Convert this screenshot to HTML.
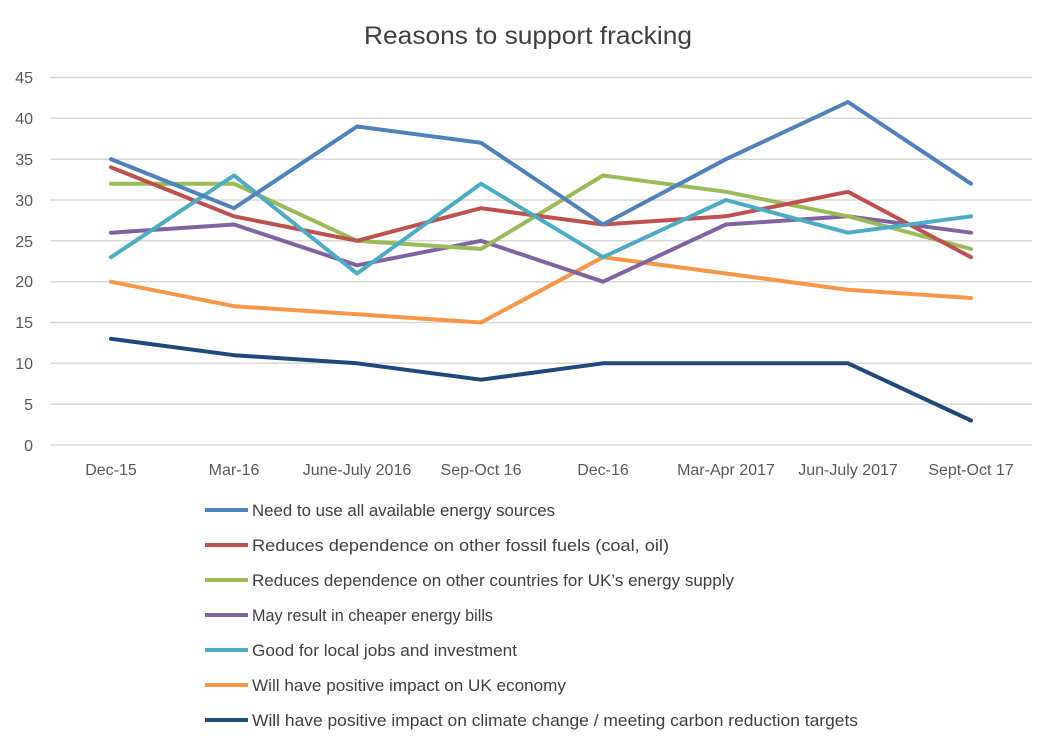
<!DOCTYPE html>
<html><head><style>body{margin:0;background:#fff}svg{display:block}text{font-family:"Liberation Sans",sans-serif}</style></head>
<body>
<svg width="1056" height="749" xmlns="http://www.w3.org/2000/svg">
<rect width="1056" height="749" fill="#fff"/>
<text x="528" y="44" font-size="25" fill="#404040" text-anchor="middle" textLength="328" lengthAdjust="spacingAndGlyphs">Reasons to support fracking</text>
<g stroke="#d9d9d9" stroke-width="1.5">
<line x1="50" x2="1032" y1="77.5" y2="77.5"/><line x1="50" x2="1032" y1="118.3" y2="118.3"/><line x1="50" x2="1032" y1="159.2" y2="159.2"/><line x1="50" x2="1032" y1="200" y2="200"/><line x1="50" x2="1032" y1="240.8" y2="240.8"/><line x1="50" x2="1032" y1="281.7" y2="281.7"/><line x1="50" x2="1032" y1="322.5" y2="322.5"/><line x1="50" x2="1032" y1="363.3" y2="363.3"/><line x1="50" x2="1032" y1="404.2" y2="404.2"/><line x1="50" x2="1032" y1="445" y2="445"/>
</g>
<g font-size="16" fill="#595959" text-anchor="end">
<text x="33" y="83">45</text><text x="33" y="124">40</text><text x="33" y="165">35</text><text x="33" y="206">30</text><text x="33" y="247">25</text><text x="33" y="287">20</text><text x="33" y="328">15</text><text x="33" y="369">10</text><text x="33" y="410">5</text><text x="33" y="451">0</text>
</g>
<g font-size="16" fill="#595959" text-anchor="middle">
<text x="111" y="475">Dec-15</text><text x="234" y="475">Mar-16</text><text x="357" y="475">June-July 2016</text><text x="481" y="475">Sep-Oct 16</text><text x="603" y="475">Dec-16</text><text x="726" y="475">Mar-Apr 2017</text><text x="848" y="475">Jun-July 2017</text><text x="971" y="475">Sept-Oct 17</text>
</g>
<g fill="none" stroke-width="4" stroke-linejoin="round" stroke-linecap="round">
<polyline stroke="#F79646" points="111,281.7 234,306.2 357,314.3 481,322.5 603,257.2 726,273.5 848,289.8 971,298"/>
<polyline stroke="#8064A2" points="111,232.7 234,224.5 357,265.3 481,240.8 603,281.7 726,224.5 848,216.3 971,232.7"/>
<polyline stroke="#9BBB59" points="111,183.7 234,183.7 357,240.8 481,249 603,175.5 726,191.8 848,216.3 971,249"/>
<polyline stroke="#C0504D" points="111,167.3 234,216.3 357,240.8 481,208.2 603,224.5 726,216.3 848,191.8 971,257.2"/>
<polyline stroke="#4BACC6" points="111,257.2 234,175.5 357,273.5 481,183.7 603,257.2 726,200 848,232.7 971,216.3"/>
<polyline stroke="#4F81BD" points="111,159.2 234,208.2 357,126.5 481,142.8 603,224.5 726,159.2 848,102 971,183.7"/>
<polyline stroke="#1F497D" points="111,338.8 234,355.2 357,363.3 481,379.7 603,363.3 726,363.3 848,363.3 971,420.5"/>
</g>
<g stroke-width="4">
<line x1="205" x2="248" y1="510" y2="510" stroke="#4F81BD"/>
<line x1="205" x2="248" y1="545" y2="545" stroke="#C0504D"/>
<line x1="205" x2="248" y1="580" y2="580" stroke="#9BBB59"/>
<line x1="205" x2="248" y1="615" y2="615" stroke="#8064A2"/>
<line x1="205" x2="248" y1="650" y2="650" stroke="#4BACC6"/>
<line x1="205" x2="248" y1="685" y2="685" stroke="#F79646"/>
<line x1="205" x2="248" y1="720" y2="720" stroke="#1F497D"/>
</g>
<g font-size="17" fill="#404040" lengthAdjust="spacingAndGlyphs">
<text x="252" y="516" textLength="303" lengthAdjust="spacingAndGlyphs">Need to use all available energy sources</text>
<text x="252" y="551" textLength="417" lengthAdjust="spacingAndGlyphs">Reduces dependence on other fossil fuels (coal, oil)</text>
<text x="252" y="586" textLength="482" lengthAdjust="spacingAndGlyphs">Reduces dependence on other countries for UK’s energy supply</text>
<text x="252" y="621" textLength="241" lengthAdjust="spacingAndGlyphs">May result in cheaper energy bills</text>
<text x="252" y="656" textLength="265" lengthAdjust="spacingAndGlyphs">Good for local jobs and investment</text>
<text x="252" y="691" textLength="314" lengthAdjust="spacingAndGlyphs">Will have positive impact on UK economy</text>
<text x="252" y="726" textLength="606" lengthAdjust="spacingAndGlyphs">Will have positive impact on climate change / meeting carbon reduction targets</text>
</g>
</svg>
</body></html>
